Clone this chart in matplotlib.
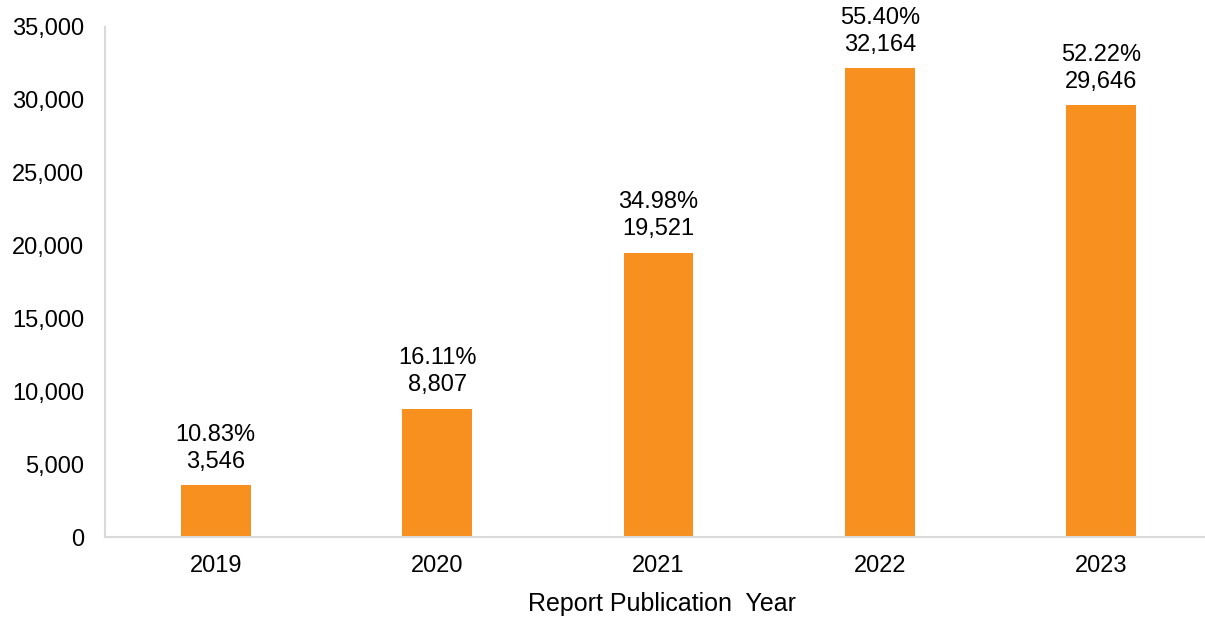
import matplotlib
matplotlib.use("Agg")
import matplotlib.pyplot as plt

years = ["2019", "2020", "2021", "2022", "2023"]
counts = [3546, 8807, 19521, 32164, 29646]
percents = ["10.83%", "16.11%", "34.98%", "55.40%", "52.22%"]

plt.rcParams['font.family'] = ['Liberation Sans', 'DejaVu Sans']

fig = plt.figure(figsize=(12.05, 6.19), dpi=100)
ax = fig.add_axes([105/1205, 82/619, 1100/1205, 510/619])

x = list(range(len(years)))
ax.bar(x, counts, width=0.316, color="#F7901E", zorder=2)
ax.set_xlim(-0.5, -0.5 + 1100/221.4)
ax.set_ylim(0, 35000)
ax.set_yticks(range(0, 35001, 5000))
ax.set_yticklabels([f"{v:,}" for v in range(0, 35001, 5000)])
ax.set_xticks(x)
ax.set_xticklabels(years)
ax.tick_params(axis='both', length=0, labelsize=17, colors='black')
ax.tick_params(axis='x', pad=13)
ax.tick_params(axis='y', pad=15)

for s in ['top', 'right']:
    ax.spines[s].set_visible(False)
for s in ['left', 'bottom']:
    ax.spines[s].set_color('#D9D9D9')
    ax.spines[s].set_linewidth(1.5)

for xi, c, p in zip(x, counts, percents):
    ax.annotate(f"{p}\n{c:,}", xy=(xi, c), xytext=(0, 9), textcoords='offset points',
                ha='center', va='bottom', fontsize=17, linespacing=1.28,
                annotation_clip=False)

ax.set_xlabel("Report Publication  Year", fontsize=18)
ax.xaxis.set_label_coords(0.5068, -0.108)

fig.savefig("out.png", dpi=100)
